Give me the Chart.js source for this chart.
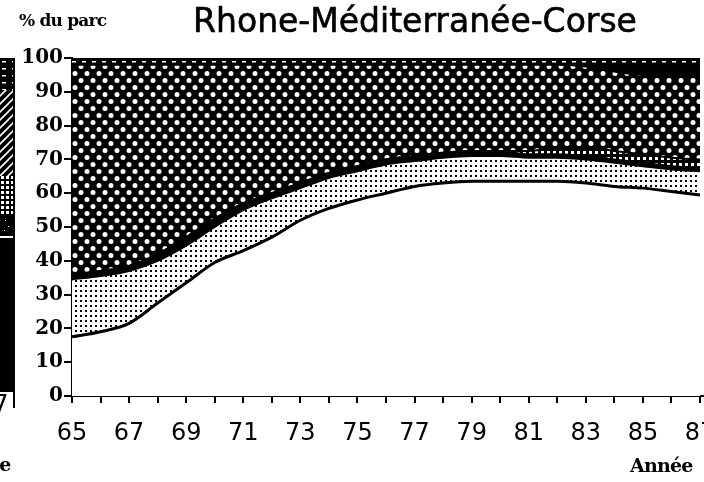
<!DOCTYPE html>
<html>
<head>
<meta charset="utf-8">
<script src="https://cdn.jsdelivr.net/npm/chart.js@4.4.1/dist/chart.umd.min.js"></script>
<style>
  html, body { margin: 0; padding: 0; background: #fff; overflow: hidden; }
  #wrap { position: relative; width: 704px; height: 482px; overflow: hidden; }
  #c { position: absolute; left: 0; top: 0; }
  .t { position: absolute; white-space: nowrap; color: #000; line-height: 1; }
  #title { left: 0; width: 830px; top: 4px; text-align: center; font-family: "DejaVu Sans", sans-serif; font-size: 33px; -webkit-text-stroke: 0.6px #000; }
  #ylab { left: 19px; top: 12px; font-family: "DejaVu Serif", serif; font-weight: bold; font-size: 17px; letter-spacing: -0.8px; }
  #xlab { left: 630px; top: 456px; font-family: "DejaVu Serif", serif; font-weight: bold; font-size: 19px; letter-spacing: -0.8px; }
  #clip7 { left: -22px; top: 392px; font-family: "DejaVu Sans", sans-serif; font-size: 24px; }
  #clipE { left: -52px; top: 455px; font-family: "DejaVu Serif", serif; font-weight: bold; font-size: 19px; letter-spacing: -0.8px; }
</style>
</head>
<body>
<div id="wrap">
  <canvas id="c" width="704" height="482"></canvas>
  <div class="t" id="title">Rhone-Méditerranée-Corse</div>
  <div class="t" id="ylab">% du parc</div>
  <div class="t" id="xlab">Année</div>
  <div class="t" id="clip7">87</div>
  <div class="t" id="clipE">Année</div>
</div>
<script>
// ---- Data (percent of fleet, stacked bottom to top) ----
const years = [65,66,67,68,69,70,71,72,73,74,75,76,77,78,79,80,81,82,83,84,85,86,87];
const xTickLabels = ['65','67','69','71','73','75','77','79','81','83','85','87'];
const yTickValues = [0,10,20,30,40,50,60,70,80,90,100];
const seriesBlanc     = [17.5,19,21.5,27.5,33.5,39.5,43,47,52,55.5,58,60,62,63,63.5,63.5,63.5,63.5,63,62,61.5,60.5,59.5];
const seriesPointille = [17,16.5,15.5,12.5,11,10.5,12,11.5,9.5,9,8.5,8.5,7.5,7.5,7.5,7.5,7,7,7,7,6.5,6.5,7];
const seriesNoir      = [1.5,1.5,1.5,2,2.5,2.5,2,1.5,1.5,1.5,1.5,1.5,1.5,1.5,1.5,1.5,1,1,1,1,1,1,1];
const seriesCarreaux  = [0,0,0,0,0,0,0,0,0,0,0,0,0,0,0,0,1,2,2.5,2.5,2.5,2.5,2.5];
const seriesQuadrille = [62,61,59.5,56,51,45.5,41,38,35,32,30,28,27,26,25.5,25.5,25.5,24.5,24,23.5,23.5,24.5,25];
const seriesNoirHaut  = [0,0,0,0,0,0,0,0,0,0,0,0,0,0,0,0,0,0,0.5,2,3,3,3];
const seriesTirets    = [2,2,2,2,2,2,2,2,2,2,2,2,2,2,2,2,2,2,2,2,2,2,2];

// ---- Patterns ----
function makePattern(w, h, draw) {
  const cv = document.createElement('canvas');
  cv.width = w; cv.height = h;
  const g = cv.getContext('2d');
  draw(g, w, h);
  return document.getElementById('c').getContext('2d').createPattern(cv, 'repeat');
}
const patQuad = makePattern(12, 14, (g, w, h) => {
  g.fillStyle = '#000'; g.fillRect(0, 0, w, h);
  g.fillStyle = '#fff';
  g.beginPath(); g.arc(3, 3.5, 2.5, 0, Math.PI * 2); g.fill();
  g.beginPath(); g.arc(9, 10.5, 2.5, 0, Math.PI * 2); g.fill();
});
const patDots = makePattern(5, 5, (g, w, h) => {
  g.fillStyle = '#fff'; g.fillRect(0, 0, w, h);
  g.fillStyle = '#000'; g.fillRect(0, 0, 2, 2);
});
const patTirets = makePattern(10, 7, (g, w, h) => {
  g.fillStyle = '#000'; g.fillRect(0, 0, w, h);
  g.fillStyle = '#fff'; g.fillRect(2, 5, 4, 1.5);
});
const patCarreaux = makePattern(6, 6, (g, w, h) => {
  g.fillStyle = '#000'; g.fillRect(0, 0, w, h);
  g.fillStyle = '#fff'; g.fillRect(1, 1, 3, 3);
});
const patHatch = makePattern(8, 8, (g, w, h) => {
  g.fillStyle = '#000'; g.fillRect(0, 0, w, h);
  g.strokeStyle = '#fff'; g.lineWidth = 1.6;
  g.beginPath(); g.moveTo(0, 8); g.lineTo(8, 0); g.stroke();
  g.beginPath(); g.moveTo(-4, 4); g.lineTo(4, -4); g.stroke();
  g.beginPath(); g.moveTo(4, 12); g.lineTo(12, 4); g.stroke();
});
const patGrid = makePattern(5, 5, (g, w, h) => {
  g.fillStyle = '#000'; g.fillRect(0, 0, w, h);
  g.fillStyle = '#fff'; g.fillRect(1, 1, 3, 3);
});

function pts(arr) { return years.map((y, i) => ({ x: y, y: arr[i] })); }
function ds(arr, bg, fill, bw) {
  return {
    data: pts(arr), backgroundColor: bg, borderColor: '#000', borderWidth: bw || 2,
    pointRadius: 0, fill: fill, cubicInterpolationMode: 'monotone'
  };
}

// Partial (clipped) legend strip at left edge
const leftStrip = {
  id: 'leftStrip',
  afterDraw(chart) {
    const g = chart.ctx;
    g.save();
    const segs = [
      [58, 90, patTirets], [90, 176, patHatch], [176, 214, patGrid],
      [214, 236, '#000'], [236, 238, '#fff'], [238, 392, '#000']
    ];
    segs.forEach(s => { g.fillStyle = s[2]; g.fillRect(0, s[0], 13, s[1] - s[0]); });
    g.fillStyle = '#000'; g.fillRect(13, 58, 2, 350);
    g.fillStyle = '#fff';
    g.fillRect(5, 220, 1, 1); g.fillRect(8, 226, 1, 1); g.fillRect(4, 230, 1, 1);
    g.restore();
  }
};

const chart = new Chart(document.getElementById('c'), {
  type: 'line',
  data: {
    datasets: [
      ds(seriesBlanc, '#fff', 'origin', 3),
      ds(seriesPointille, patDots, '-1'),
      ds(seriesNoir, '#000', '-1'),
      ds(seriesCarreaux, patCarreaux, '-1'),
      ds(seriesQuadrille, patQuad, '-1'),
      ds(seriesNoirHaut, '#000', '-1'),
      ds(seriesTirets, patTirets, '-1')
    ]
  },
  options: {
    responsive: false,
    animation: false,
    events: [],
    layout: { padding: { top: 58, right: 0, left: 0, bottom: 0 } },
    plugins: { legend: { display: false }, title: { display: false }, tooltip: { enabled: false } },
    scales: {
      x: {
        type: 'linear', min: 65, max: 87.14,
        afterBuildTicks: (axis) => { axis.ticks = years.map(v => ({ value: v })); },
        afterFit: (axis) => { axis.height = 86; axis.paddingRight = 0; axis.paddingLeft = 0; },
        grid: { drawOnChartArea: false, drawTicks: true, tickLength: 7, color: '#000', lineWidth: 2 },
        border: { display: true, color: '#000', width: 2 },
        ticks: {
          autoSkip: false, maxRotation: 0, padding: 16, color: '#000',
          font: { family: 'DejaVu Sans', size: 24 },
          callback: (v) => xTickLabels.includes(String(v)) ? String(v) : ''
        }
      },
      y: {
        stacked: true, min: 0, max: 100,
        afterBuildTicks: (axis) => { axis.ticks = yTickValues.map(v => ({ value: v })); },
        afterFit: (axis) => { axis.width = 72; },
        grid: { drawOnChartArea: false, drawTicks: true, tickLength: 8, color: '#000', lineWidth: 2 },
        border: { display: true, color: '#000', width: 2 },
        ticks: {
          padding: 1, color: '#000',
          font: { family: 'DejaVu Serif', size: 20, weight: 'bold' }
        }
      }
    }
  },
  plugins: [leftStrip]
});
</script>
</body>
</html>
